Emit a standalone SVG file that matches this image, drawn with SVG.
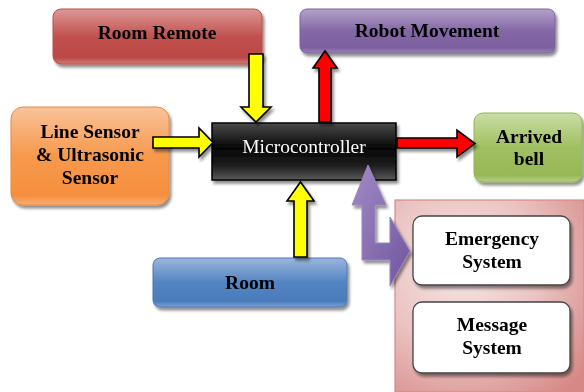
<svg xmlns="http://www.w3.org/2000/svg" width="584" height="392" viewBox="0 0 584 392">
  <defs>
    <linearGradient id="gRed" x1="0" y1="0" x2="0" y2="1">
      <stop offset="0" stop-color="#dc9896"/>
      <stop offset="0.5" stop-color="#c2514e"/>
      <stop offset="0.88" stop-color="#bb4946"/>
      <stop offset="1" stop-color="#cf7a77"/>
    </linearGradient>
    <linearGradient id="gPurple" x1="0" y1="0" x2="0" y2="1">
      <stop offset="0" stop-color="#b3a2c9"/>
      <stop offset="0.5" stop-color="#8467a6"/>
      <stop offset="0.88" stop-color="#7d609f"/>
      <stop offset="1" stop-color="#9a84b8"/>
    </linearGradient>
    <linearGradient id="gOrange" x1="0" y1="0" x2="0" y2="1">
      <stop offset="0" stop-color="#f9c39a"/>
      <stop offset="0.5" stop-color="#f7994c"/>
      <stop offset="0.9" stop-color="#f58f3e"/>
      <stop offset="1" stop-color="#f8ae72"/>
    </linearGradient>
    <linearGradient id="gGreen" x1="0" y1="0" x2="0" y2="1">
      <stop offset="0" stop-color="#cadea6"/>
      <stop offset="0.5" stop-color="#a0bf60"/>
      <stop offset="0.9" stop-color="#98b857"/>
      <stop offset="1" stop-color="#b6cf85"/>
    </linearGradient>
    <linearGradient id="gBlue" x1="0" y1="0" x2="0" y2="1">
      <stop offset="0" stop-color="#9cb6dc"/>
      <stop offset="0.5" stop-color="#5384c2"/>
      <stop offset="0.88" stop-color="#4b7cbc"/>
      <stop offset="1" stop-color="#7a9fd0"/>
    </linearGradient>
    <linearGradient id="gBlack" x1="0" y1="0" x2="0" y2="1">
      <stop offset="0" stop-color="#4a4a4a"/>
      <stop offset="0.45" stop-color="#050505"/>
      <stop offset="0.75" stop-color="#1e1e1e"/>
      <stop offset="1" stop-color="#5a5a5a"/>
    </linearGradient>
    <radialGradient id="gPink" cx="0.35" cy="0.35" r="0.85">
      <stop offset="0" stop-color="#f7e6e6"/>
      <stop offset="0.5" stop-color="#eac3c2"/>
      <stop offset="1" stop-color="#d68886"/>
    </radialGradient>
    <linearGradient id="gViolet" x1="0" y1="0" x2="1" y2="1">
      <stop offset="0" stop-color="#a18bc4"/>
      <stop offset="1" stop-color="#6f55a0"/>
    </linearGradient>
    <filter id="shadow" x="-10%" y="-10%" width="125%" height="135%">
      <feGaussianBlur in="SourceAlpha" stdDeviation="1.5"/>
      <feOffset dx="2" dy="3" result="b"/>
      <feComponentTransfer><feFuncA type="linear" slope="0.45"/></feComponentTransfer>
      <feMerge><feMergeNode/><feMergeNode in="SourceGraphic"/></feMerge>
    </filter>
    <style>
      .lbl { font-family: "Liberation Serif", "Times New Roman", serif; font-weight: bold; font-size: 19.5px; fill: #000; text-anchor: middle; }
      .mc { font-family: "Liberation Serif", "Times New Roman", serif; font-size: 19.5px; fill: #fff; text-anchor: middle; }
      .yellow { fill: #ffff00; stroke: #000; stroke-width: 1.6; stroke-linejoin: miter; }
      .red { fill: #ff0000; stroke: #000; stroke-width: 1.6; stroke-linejoin: miter; }
      .violet { fill: url(#gViolet); stroke: #9b85c0; stroke-width: 1; }
      .inner { fill: #ffffff; stroke: #444; stroke-width: 1.3; }
    </style>
  </defs>

  <rect width="584" height="392" fill="#ffffff"/>

  <!-- subsystem panel -->
  <g id="panel">
    <rect x="395" y="200" width="189" height="192" fill="url(#gPink)" stroke="#d58a88" stroke-width="1.2"/>
  </g>

  <g id="room-remote" filter="url(#shadow)">
    <rect x="53" y="9" width="209" height="55" rx="8" fill="url(#gRed)" stroke="#b9504d" stroke-width="1"/>
    <text class="lbl" x="157" y="39">Room Remote</text>
  </g>

  <g id="robot-movement" filter="url(#shadow)">
    <rect x="300" y="9" width="255" height="44" rx="7" fill="url(#gPurple)" stroke="#7c629d" stroke-width="1"/>
    <text class="lbl" x="427" y="37">Robot Movement</text>
  </g>

  <g id="line-sensor" filter="url(#shadow)">
    <rect x="11" y="107" width="158" height="98" rx="12" fill="url(#gOrange)" stroke="#e88a3f" stroke-width="1"/>
    <text class="lbl" x="90" y="138">Line Sensor</text>
    <text class="lbl" x="90" y="161">&amp; Ultrasonic</text>
    <text class="lbl" x="90" y="184">Sensor</text>
  </g>

  <g id="microcontroller" filter="url(#shadow)">
    <rect x="212" y="123" width="184" height="57" fill="url(#gBlack)" stroke="#000" stroke-width="1.5"/>
    <text class="mc" x="304" y="153">Microcontroller</text>
  </g>

  <g id="arrived-bell" filter="url(#shadow)">
    <rect x="474" y="113" width="108" height="69" rx="9" fill="url(#gGreen)" stroke="#93b356" stroke-width="1"/>
    <text class="lbl" x="529" y="143">Arrived</text>
    <text class="lbl" x="529" y="165">bell</text>
  </g>

  <g id="room" filter="url(#shadow)">
    <rect x="153" y="258" width="194" height="49" rx="7" fill="url(#gBlue)" stroke="#4a78b3" stroke-width="1"/>
    <text class="lbl" x="250" y="289">Room</text>
  </g>

  <g id="emergency-system" filter="url(#shadow)">
    <rect x="413" y="216" width="157" height="69" rx="9" class="inner"/>
    <text class="lbl" x="492" y="245">Emergency</text>
    <text class="lbl" x="492" y="268">System</text>
  </g>

  <g id="message-system" filter="url(#shadow)">
    <rect x="413" y="302" width="157" height="71" rx="9" class="inner"/>
    <text class="lbl" x="492" y="331">Message</text>
    <text class="lbl" x="492" y="354">System</text>
  </g>

  <!-- connectors: block arrows -->
  <g id="connectors" filter="url(#shadow)">
    <!-- Room Remote -> Microcontroller -->
    <polygon class="yellow" points="249,54 263,54 263,107 271,107 256,122 241,107 249,107"/>
    <!-- Line Sensor -> Microcontroller -->
    <polygon class="yellow" points="153,137 199,137 199,128 213,142.5 199,157 199,148 153,148"/>
    <!-- Room -> Microcontroller -->
    <polygon class="yellow" points="294,257 307,257 307,201 314,201 300.5,182 287,201 294,201"/>
    <!-- Microcontroller -> Robot Movement -->
    <polygon class="red" points="319,122 331,122 331,68 337,68 325,51 313,68 319,68"/>
    <!-- Microcontroller -> Arrived bell -->
    <polygon class="red" points="397,138 457,138 457,130 475,143.5 457,157 457,148 397,148"/>
    <!-- Microcontroller <-> Emergency/Message systems -->
    <polygon class="violet" points="368,165 386,205 375,205 375,243 390,243 390,217 410,251 390,286 390,260 362,260 362,205 352,205"/>
  </g>
</svg>
